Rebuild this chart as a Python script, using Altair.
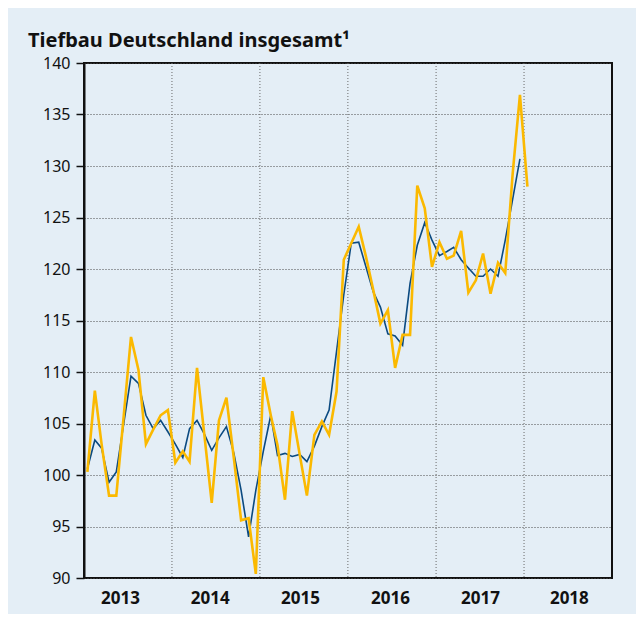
import altair as alt
import pandas as pd

# ---- data ----
years = [2013, 2014, 2015, 2016, 2017, 2018]
# label anchor dates (labels in the reference sit slightly left of mid-year early on)
label_dates = [(2013, 5, 30), (2014, 6, 7), (2015, 6, 16), (2016, 6, 24), (2017, 7, 2), (2018, 7, 6)]
y_ticks = [90, 95, 100, 105, 110, 115, 120, 125, 130, 135, 140]

# monthly values (yellow), Jan 2013 .. Jan 2018
yellow_2013 = [100.3, 108.2, 103.0, 98.0, 98.0, 105.8, 113.4, 110.2, 103.0, 104.4, 105.8, 106.3]
yellow_2014 = [101.2, 102.3, 101.3, 110.4, 104.0, 97.3, 105.3, 107.5, 101.6, 95.6, 95.8, 90.4]
yellow_2015 = [109.5, 105.8, 102.9, 97.6, 106.2, 102.0, 98.0, 103.9, 105.2, 103.9, 108.1, 120.9]
yellow_2016 = [122.5, 124.1, 121.3, 118.0, 114.7, 116.0, 110.4, 113.6, 113.6, 128.1, 125.9, 120.2]
yellow_2017 = [122.6, 121.0, 121.3, 123.7, 117.7, 118.9, 121.5, 117.6, 120.6, 119.6, 129.3, 136.9]
yellow_2018 = [128.0]

# smoothed values (dark blue), Jan 2013 .. Dec 2017
blue_2013 = [100.6, 103.4, 102.6, 99.3, 100.3, 105.0, 109.6, 108.9, 105.8, 104.5, 105.3, 104.2]
blue_2014 = [103.0, 101.7, 104.5, 105.3, 104.0, 102.4, 103.6, 104.7, 102.1, 98.5, 94.0, 98.5]
blue_2015 = [102.3, 105.8, 101.9, 102.1, 101.8, 102.0, 101.3, 102.8, 104.7, 106.3, 112.0, 117.5]
blue_2016 = [122.5, 122.6, 120.3, 117.8, 116.3, 113.7, 113.5, 112.6, 118.6, 122.3, 124.5, 122.8]
blue_2017 = [121.3, 121.7, 122.1, 120.9, 120.1, 119.3, 119.3, 120.0, 119.3, 122.8, 126.8, 130.7]

yellow = yellow_2013 + yellow_2014 + yellow_2015 + yellow_2016 + yellow_2017 + yellow_2018
blue = blue_2013 + blue_2014 + blue_2015 + blue_2016 + blue_2017


def month_dates(n):
    out = []
    for i in range(n):
        y = 2013 + i // 12
        m = i % 12 + 1
        out.append(f"{y}/{m:02d}/15")
    return out


df_yellow = pd.DataFrame({"date": month_dates(len(yellow)), "value": yellow})
df_blue = pd.DataFrame({"date": month_dates(len(blue)), "value": blue})
df_bounds = pd.DataFrame({"date": [f"{y}/01/01" for y in years[1:]]})

x_scale = alt.Scale(domain=[alt.DateTime(year=2013, month=1, date=1),
                            alt.DateTime(year=2019, month=1, date=1)])
y_scale = alt.Scale(domain=[90, 140], nice=False, zero=False)

x_axis = alt.Axis(
    values=[alt.DateTime(year=y, month=m, date=d) for (y, m, d) in label_dates],
    format="%Y", title=None, ticks=False, domain=False, grid=False,
    labelFontSize=17, labelFontWeight="bold", labelFont="Noto Sans",
    labelColor="#111111", labelPadding=12,
)
y_axis = alt.Axis(
    values=y_ticks, title=None, grid=True, gridDash=[1, 2], gridColor="#4a4a4a",
    gridWidth=1, tickSize=8, tickColor="#111111", tickWidth=1.5,
    domainColor="#111111", domainWidth=2, labelFontSize=16, labelFont="Noto Sans",
    labelColor="#111111", labelPadding=6,
)

rules = alt.Chart(df_bounds).mark_rule(color="#6a6a6a", strokeDash=[1, 2], strokeWidth=1).encode(
    x=alt.X("date:T", scale=x_scale, axis=x_axis)
)

blue_line = alt.Chart(df_blue).mark_line(color="#0b4a80", strokeWidth=1.6).encode(
    x=alt.X("date:T", scale=x_scale, axis=x_axis),
    y=alt.Y("value:Q", scale=y_scale, axis=y_axis),
)

yellow_line = alt.Chart(df_yellow).mark_line(color="#fbb900", strokeWidth=2.6).encode(
    x=alt.X("date:T", scale=x_scale, axis=x_axis),
    y=alt.Y("value:Q", scale=y_scale, axis=y_axis),
)

chart = alt.layer(rules, blue_line, yellow_line).properties(
    width=528,
    height=515,
    autosize=alt.AutoSizeParams(type="none"),
    padding={"left": 76, "top": 55, "right": 24, "bottom": 36},
    background="#e4eef6",
    title=alt.TitleParams(
        "Tiefbau Deutschland insgesamt¹", anchor="start", frame="group", fontSize=20,
        fontWeight="bold", font="Noto Sans", color="#111111", dx=-56, offset=4,
    ),
).configure_view(stroke="#111111", strokeWidth=2)

chart.save("out.html", embed_options={"renderer": "svg", "actions": False})
